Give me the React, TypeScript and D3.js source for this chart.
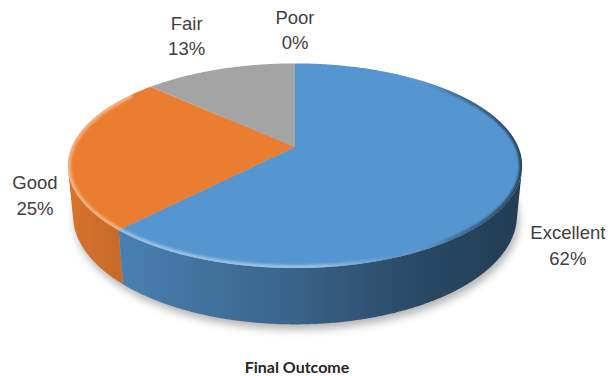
import React, { useMemo } from "react";
import * as d3 from "d3";

// ---------- data ----------
const categories = ["Excellent", "Good", "Fair", "Poor"];
const values = [62, 25, 13, 0];
const sliceColors = ["#5696D0", "#EB7D31", "#A4A4A4", "#FFC000"];
const chartTitle = "Final Outcome";

// ---------- layout constants ----------
const W = 608;
const H = 376;
const CX = 295; // screen position of pie centre
const CY = 147;
const FOCAL = 1094;
const DIST = 4.9;
const SIN_T = 0.443;
const COS_T = Math.sqrt(1 - SIN_T * SIN_T);
const DEPTH = 0.25;
const LABEL_FONT = 18.5;
const LINE_H = 25.5;
const CAP_H = LABEL_FONT * 0.716;

type Pt = [number, number];

function depthOf(Y: number, Z: number) {
  return -Y * SIN_T + DIST - Z * COS_T;
}
function project(X: number, Y: number, Z: number): Pt {
  const d = depthOf(Y, Z);
  const yc = Y * COS_T - Z * SIN_T;
  return [CX + (FOCAL * X) / d, CY - (FOCAL * yc) / d];
}
function rim(theta: number, Y: number): Pt {
  return project(Math.sin(theta), Y, -Math.cos(theta));
}
function arcPts(a0: number, a1: number, Y: number): Pt[] {
  const n = Math.max(2, Math.ceil(Math.abs(a1 - a0) / (Math.PI / 360)));
  return d3.range(n + 1).map((i) => rim(a0 + ((a1 - a0) * i) / n, Y));
}

const line = d3.line<Pt>().x((p) => p[0]).y((p) => p[1]);

// visible wall range: wall normal faces camera where Z > 1/(DIST*cos)
const zLim = 1 / (DIST * COS_T);
const visA0 = Math.acos(-zLim);
const visA1 = 2 * Math.PI - visA0;

// wall shading multiplier across x
const shadeX = d3
  .scaleLinear<number>()
  .domain([0, 0.11, 0.5, 0.78, 1])
  .range([0.92, 0.85, 0.66, 0.48, 0.4]);

function shade(color: string, m: number) {
  const c = d3.rgb(color);
  return d3.rgb(c.r * m, c.g * m, c.b * m).formatHex();
}

let measureCtx: CanvasRenderingContext2D | null = null;
function textWidth(s: string) {
  if (!measureCtx) {
    const c = document.createElement("canvas");
    measureCtx = c.getContext("2d");
  }
  if (!measureCtx) return s.length * LABEL_FONT * 0.55;
  measureCtx.font = `${LABEL_FONT}px "Liberation Sans", Arial, sans-serif`;
  return measureCtx.measureText(s).width;
}

export default function App() {
  const model = useMemo(() => {
    const pie = d3.pie<number>().sort(null).value((v) => v);
    const arcs = pie(values);
    const total = d3.sum(values);

    const allRim = arcPts(0, 2 * Math.PI, 0);
    const xMin = d3.min(allRim, (p) => p[0]) as number;
    const xMax = d3.max(allRim, (p) => p[0]) as number;

    const center = project(0, 0, 0);

    const slices = arcs.map((a, i) => {
      const top =
        a.endAngle > a.startAngle
          ? line([center, ...arcPts(a.startAngle, a.endAngle, 0)]) + "Z"
          : null;
      const w0 = Math.max(a.startAngle, visA0);
      const w1 = Math.min(a.endAngle, visA1);
      let wall: string | null = null;
      if (w1 > w0) {
        const upper = arcPts(w0, w1, 0);
        const lower = arcPts(w0, w1, -DEPTH).reverse();
        wall = line([...upper, ...lower]) + "Z";
      }
      // label layout (outside end, best fit)
      const mid = (a.startAngle + a.endAngle) / 2;
      const zMid = -Math.cos(mid);
      const anchor = rim(mid, zMid > 0 ? -DEPTH : 0);
      const dx = anchor[0] - center[0];
      const dy = anchor[1] - center[1];
      const len = Math.hypot(dx, dy) || 1;
      const ux = dx / len;
      const uy = dy / len;
      const pct = `${Math.round((a.value / total) * 100)}%`;
      const halfW = Math.max(textWidth(categories[i]), textWidth(pct)) / 2;
      const halfH = (CAP_H + LINE_H) / 2;
      const gap = 14;
      let lx: number, ly: number;
      if (Math.abs(ux) > 0.85) {
        lx = anchor[0] + Math.sign(ux) * (halfW + gap + 4);
        ly = anchor[1] + (ux > 0 ? 8 : -4);
      } else {
        const dist = Math.min(
          Math.abs(ux) > 1e-6 ? halfW / Math.abs(ux) : Infinity,
          Math.abs(uy) > 1e-6 ? halfH / Math.abs(uy) : Infinity
        );
        const diag = Math.min(Math.abs(ux), Math.abs(uy)) / Math.SQRT1_2;
        lx = anchor[0] + ux * (dist + gap + 6 * diag);
        ly = anchor[1] + uy * (dist + gap + 6 * diag);
      }
      return { i, top, wall, lx, ly, pct, name: categories[i], color: sliceColors[i] };
    });

    const bottom = line(arcPts(0, 2 * Math.PI, -DEPTH)) + "Z";
    const topAll = line(allRim) + "Z";
    const bevel = line(arcPts(Math.PI * 0.2, Math.PI * 1.7, 0));

    return { slices, xMin, xMax, bottom, topAll, bevel };
  }, []);

  const { slices, xMin, xMax, bottom, topAll, bevel } = model;
  const stops = shadeX.domain();

  return (
    <svg
      width={W}
      height={H}
      viewBox={`0 0 ${W} ${H}`}
      style={{ position: "absolute", left: 0, top: 0, background: "#fff" }}
    >
      <defs>
        <filter id="shadowBlur" x="-20%" y="-20%" width="140%" height="140%">
          <feGaussianBlur stdDeviation="4" />
        </filter>
        <filter id="bevelBlur" x="-10%" y="-10%" width="120%" height="120%">
          <feGaussianBlur stdDeviation="1.2" />
        </filter>
        <clipPath id="topClip">
          <path d={topAll} />
        </clipPath>
        {slices.map((s) => (
          <linearGradient
            key={s.i}
            id={`wall${s.i}`}
            gradientUnits="userSpaceOnUse"
            x1={xMin}
            x2={xMax}
            y1={0}
            y2={0}
          >
            {stops.map((t) => (
              <stop key={t} offset={t} stopColor={shade(s.color, shadeX(t))} />
            ))}
          </linearGradient>
        ))}
        <linearGradient id="bevelGrad" gradientUnits="userSpaceOnUse" x1={xMin} x2={xMax} y1={0} y2={0}>
          <stop offset="0" stopColor="#ffffff" stopOpacity={0.4} />
          <stop offset="0.55" stopColor="#ffffff" stopOpacity={0.4} />
          <stop offset="0.72" stopColor="#ffffff" stopOpacity={0} />
          <stop offset="0.85" stopColor="#000000" stopOpacity={0.25} />
          <stop offset="1" stopColor="#000000" stopOpacity={0.55} />
        </linearGradient>
      </defs>

      {/* soft shadow */}
      <path d={bottom} transform="translate(2,5)" fill="#000" opacity={0.3} filter="url(#shadowBlur)" />

      {/* walls */}
      {slices.map((s) =>
        s.wall ? <path key={`w${s.i}`} d={s.wall} fill={`url(#wall${s.i})`} /> : null
      )}

      {/* top faces */}
      {slices.map((s) => (s.top ? <path key={`t${s.i}`} d={s.top} fill={s.color} /> : null))}

      {/* bevel highlight / shade along the rim */}
      <g clipPath="url(#topClip)">
        <path
          d={bevel || ""}
          fill="none"
          stroke="url(#bevelGrad)"
          strokeWidth={6}
          filter="url(#bevelBlur)"
        />
      </g>

      {/* labels */}
      {slices.map((s) => (
        <text
          key={`l${s.i}`}
          textAnchor="middle"
          fontFamily='"Liberation Sans", Arial, sans-serif'
          fontSize={LABEL_FONT}
          fill="#404040"
        >
          <tspan x={s.lx} y={s.ly - (CAP_H + LINE_H) / 2 + CAP_H}>
            {s.name}
          </tspan>
          <tspan x={s.lx} y={s.ly - (CAP_H + LINE_H) / 2 + CAP_H + LINE_H}>
            {s.pct}
          </tspan>
        </text>
      ))}

      {/* title */}
      <text
        x={CX + 2}
        y={373}
        textAnchor="middle"
        fontFamily='Lato, "Open Sans", sans-serif'
        fontWeight={700}
        fontSize={16}
        fill="#262626"
      >
        {chartTitle}
      </text>
    </svg>
  );
}
